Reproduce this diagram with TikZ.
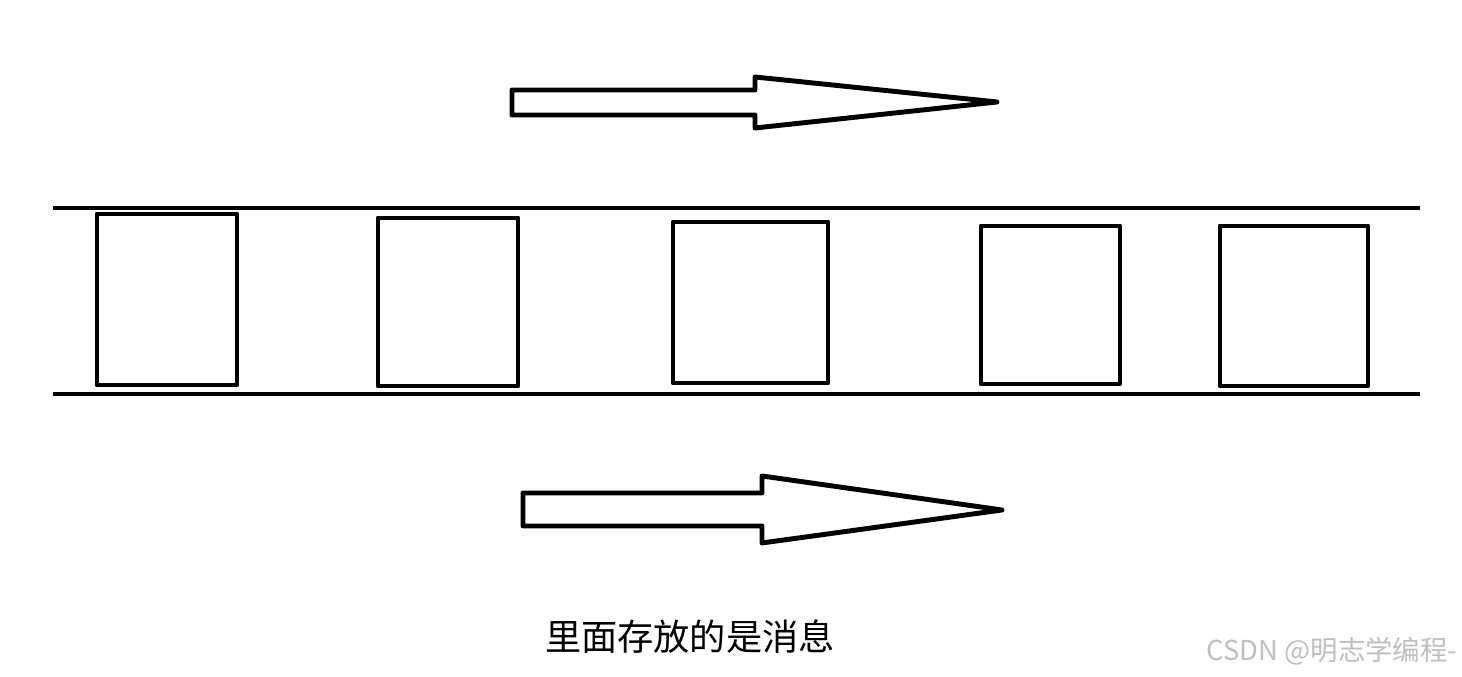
\documentclass[tikz,border=0pt]{standalone}
\usepackage{fontspec}
\newfontfamily\cjk{Noto Sans CJK SC}
\tikzset{
  stroke/.style={line width=1.4pt, line join=round, line cap=round},
  slot/.style={stroke},
  bigarrow/.style={stroke, fill=white},
  caption/.style={font=\cjk\fontsize{10.3}{12}\selectfont, inner sep=0pt},
  mark wm/.style={font=\cjk\fontsize{7.8}{9}\selectfont, text=black!25, inner sep=0pt, anchor=east}
}
\begin{document}
\begin{tikzpicture}[x=0.01cm,y=-0.01cm]
\useasboundingbox (0,0) rectangle (1462,677);
% rails
\coordinate (tl) at (53,208); \coordinate (tr) at (1420,208);
\coordinate (bl) at (53,394); \coordinate (br) at (1420,394);
\draw[stroke, line cap=butt] (tl) -- (tr);
\draw[stroke, line cap=butt] (bl) -- (br);
% boxes
\draw[slot] (97,214) rectangle (237,385);
\draw[slot] (378,218) rectangle (518,386);
\draw[slot] (673,222) rectangle (828,383);
\draw[slot] (981,226) rectangle (1120,384);
\draw[slot] (1220,226) rectangle (1368,386);
% top arrow
\draw[bigarrow] (512,90) -- (755,90) -- (755,77) -- (997,102) -- (755,128) -- (755,115) -- (512,115) -- cycle;
% bottom arrow
\draw[bigarrow] (523,493) -- (762,493) -- (762,476) -- (1002,510) -- (762,543) -- (762,526) -- (523,526) -- cycle;
% caption
\node[caption] (cap) at (690,637) {里面存放的是消息};
\node[mark wm] (wm) at (1458,651) {CSDN @明志学编程-};
\end{tikzpicture}
\end{document}
